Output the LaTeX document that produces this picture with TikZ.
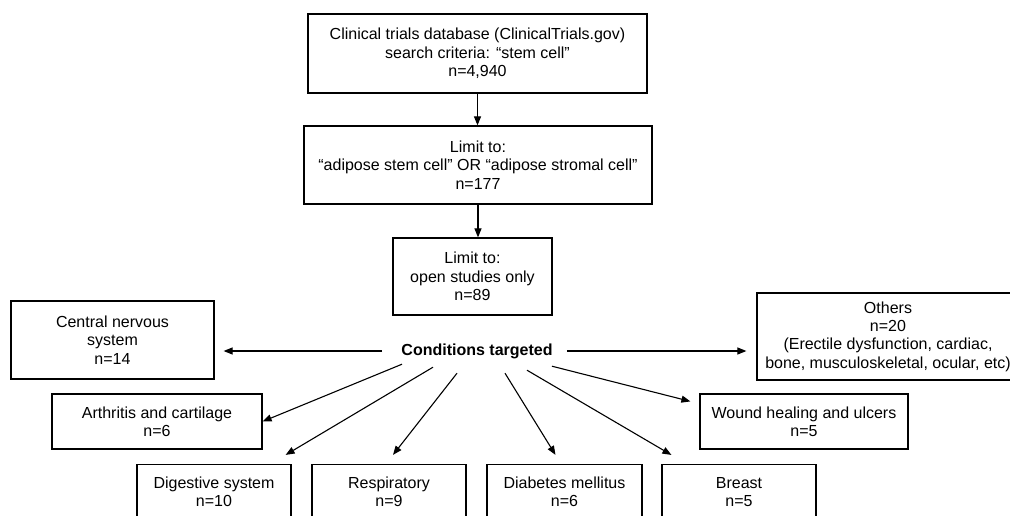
\documentclass[tikz,border=0pt]{standalone}
\usepackage{fontspec}
\setmainfont{Liberation Sans}
\usetikzlibrary{arrows.meta,positioning,calc}

\begin{document}
\begin{tikzpicture}[
    x=1pt, y=-1pt,
    >={Triangle[length=9pt,width=7pt]},
    critbox/.style={draw, line width=1.2pt, align=center, inner sep=0pt,
                    font=\fontsize{16}{18.4}\selectfont},
    condlabel/.style={font=\fontsize{16}{18.4}\selectfont\bfseries, inner sep=0pt,
                      text height=12pt, text depth=4pt},
    arr/.style={->, line width=1.1pt},
]
\useasboundingbox (0,0) rectangle (1010,515);
\clip (0,0) rectangle (1010,515);

% ============ SEARCH STEPS ============
\node[critbox, minimum width=339, minimum height=79] (search) at (477.5,53.5) {
  Clinical trials database (ClinicalTrials.gov)\\
  search criteria: “stem cell”\\
  n=4,940
};
\node[critbox, minimum width=348, minimum height=78] (adipose) at (478,165) {
  Limit to:\\
  “adipose stem cell” OR “adipose stromal cell”\\
  n=177
};
\node[critbox, minimum width=159, minimum height=77] (open) at (472.5,276.5) {
  Limit to:\\
  open studies only\\
  n=89
};

\draw[arr] (search.south) -- (search.south |- adipose.north);
\draw[arr] (adipose.south) -- (adipose.south |- open.north);

% ============ CONDITIONS ============
\node[condlabel] (cond) at (477,351) {Conditions targeted};

\node[critbox, minimum width=203, minimum height=78] (cns) at (112.5,340) {
  Central nervous\\ system\\ n=14
};
\node[critbox, minimum width=262, minimum height=87] (others) at (888,336.5) {
  Others\\ n=20\\
  (Erectile dysfunction, cardiac,\\
  bone, musculoskeletal, ocular, etc)
};
\node[critbox, minimum width=210, minimum height=55] (arth) at (157,421.5) {
  Arthritis and cartilage\\ n=6
};
\node[critbox, minimum width=208, minimum height=55] (wound) at (804,421.5) {
  Wound healing and ulcers\\ n=5
};
\node[critbox, minimum width=154, minimum height=55] (dig) at (214,492) {
  Digestive system\\ n=10
};
\node[critbox, minimum width=154, minimum height=55] (resp) at (389,492) {
  Respiratory\\ n=9
};
\node[critbox, minimum width=155, minimum height=55] (diab) at (564.5,492) {
  Diabetes mellitus\\ n=6
};
\node[critbox, minimum width=154, minimum height=55] (breast) at (739,492) {
  Breast\\ n=5
};

% horizontal arrows
\draw[arr] ([xshift=-19pt]cond.west) -- ([xshift=9pt]cns.east |- cond.west);
\draw[arr] ([xshift=14pt]cond.east) -- ([xshift=-10pt]others.west |- cond.east);

% fan-out below the label
\draw[arr] ([shift={(-75,5)}]cond.south) -- (arth.east);
\draw[arr] ([shift={(-44,8)}]cond.south) -- ([shift={(-6,-9)}]dig.north east);
\draw[arr] ([shift={(-20,14)}]cond.south) -- ([shift={(4,-9)}]resp.north);
\draw[arr] ([shift={(28,14)}]cond.south) -- ([shift={(-9,-9)}]diab.north);
\draw[arr] ([shift={(50,11)}]cond.south) -- ([shift={(10,-9)}]breast.north west);
\draw[arr] ([shift={(75,7)}]cond.south) -- ([shift={(-9,8)}]wound.north west);

\end{tikzpicture}
\end{document}
